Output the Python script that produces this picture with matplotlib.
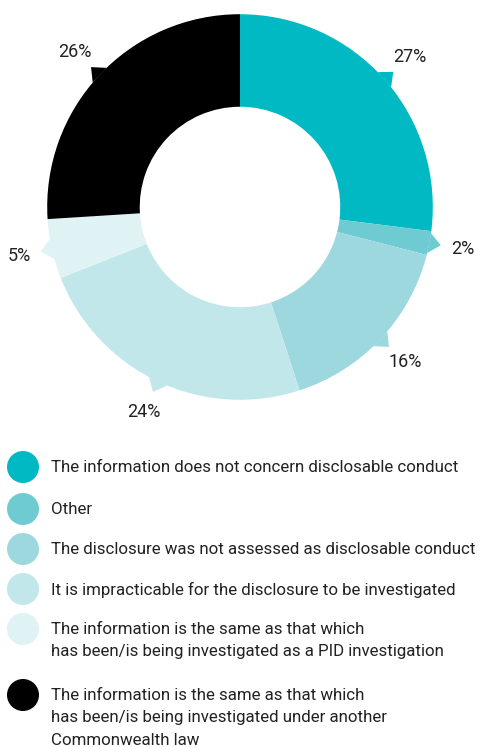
import numpy as np
import matplotlib
matplotlib.use("Agg")
from matplotlib import pyplot as plt
from matplotlib.patches import Circle, Polygon

plt.rcParams['font.family'] = ['Roboto', 'DejaVu Sans']

# chart data, clockwise from 12 o'clock
categories = [
    "The information does not concern disclosable conduct",
    "Other",
    "The disclosure was not assessed as disclosable conduct",
    "It is impracticable for the disclosure to be investigated",
    "The information is the same as that which\nhas been/is being investigated as a PID investigation",
    "The information is the same as that which\nhas been/is being investigated under another\nCommonwealth law",
]
shares = [27, 2, 16, 24, 5, 26]
colours = ['#00b9c3', '#6fcbd2', '#9ed8df', '#c2e7eb', '#dff2f4', '#000000']

fig = plt.figure(figsize=(4.86, 7.47), dpi=100)

# donut
ax = fig.add_axes([-1 / 486, 299 / 747, 482 / 486, 482 / 747])
wedges, _ = ax.pie(shares, colors=colours, startangle=90, counterclock=False,
                   radius=1.0, wedgeprops=dict(width=0.48, linewidth=0))
ax.set_xlim(-1.25, 1.25)
ax.set_ylim(-1.25, 1.25)
ax.set_aspect('equal')
ax.axis('off')

for w, val in zip(wedges, shares):
    mid = np.deg2rad((w.theta1 + w.theta2) / 2)
    half = np.deg2rad(3.0)
    # small callout tab on the outer edge
    tab = [(np.cos(mid - half), np.sin(mid - half)),
           (1.06 * np.cos(mid), 1.06 * np.sin(mid)),
           (np.cos(mid + half), np.sin(mid + half))]
    ax.add_patch(Polygon(tab, closed=True, color=w.get_facecolor(), lw=0))
    ax.text(1.175 * np.cos(mid), 1.175 * np.sin(mid), f"{val}%",
            ha='center', va='center', fontsize=13, color='#222222')

# legend drawn in pixel space
lg = fig.add_axes([0, 0, 1, 1])
lg.set_xlim(0, 486)
lg.set_ylim(747, 0)
lg.axis('off')
row_y = [467, 509, 549, 589, 629, 695]
for y, col, lab in zip(row_y, colours, categories):
    lg.add_patch(Circle((23, y), 16, color=col, lw=0))
    lg.text(51, y - 7, lab, ha='left', va='top', fontsize=12.2,
            color='#222222', linespacing=1.62)

fig.savefig('out.png', dpi=100)
